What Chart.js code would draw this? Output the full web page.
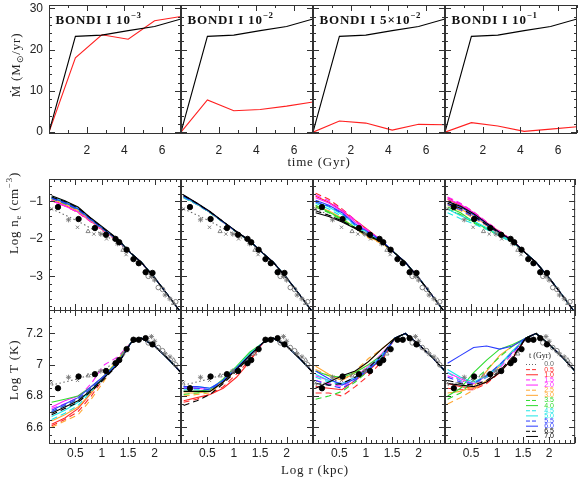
<!DOCTYPE html>
<html>
<head>
<meta charset="utf-8">
<script src="https://cdn.jsdelivr.net/npm/chart.js@4.4.0/dist/chart.umd.min.js"></script>
<style>
  body { margin: 0; background: #fff; }
  #wrap { position: relative; width: 580px; height: 481px; }
  #wrap canvas { position: absolute; left: 0; top: 0; }
</style>
</head>
<body>
<div id="wrap"></div>
<script>
// ---------- data ----------
// top row: accretion rate vs time
var timeGyr = [0, 1.4, 2.8, 4.2, 5.6, 7];
var mdotBlack = [0, 23.2, 23.5, 24.6, 25.6, 27.4];
var mdotRed1 = [0, 18.0, 23.6, 22.5, 27.0, 28.0];
var mdotRed2 = [0, 7.8, 5.2, 5.5, 6.3, 7.3];
var mdotRed3 = [0, 2.7, 2.2, 0.5, 1.9, 1.8];
var mdotRed4 = [0, 2.3, 1.5, 0.2, 0.75, 1.3];

// profiles: log r grid, inner part (r <= 1.3) differs per run, outer part shared
var rGrid = [0.05, 0.3, 0.55, 0.8, 1.05, 1.3, 1.55, 1.75, 2.0, 2.25, 2.5];
var tGyr = ['0.0', '0.5', '1.0', '1.5', '2.0', '2.5', '3.0', '3.5', '4.0', '4.5', '5.0', '5.5', '6.0', '6.5', '7.0'];

var ne0 = [-1.2, -1.36, -1.53, -1.72, -1.9, -2.1];
var neOuter = [-2.38, -2.63, -3.04, -3.5, -3.97];
var T0 = [6.87, 6.89, 6.91, 6.94, 6.97, 7.03];
var TOuterA = [7.14, 7.17, 7.12, 7.04, 6.95];
var TOuterB = [7.17, 7.2, 7.13, 7.05, 6.96];

// rows: t = 0.5 ... 7.0
var neP1 = [
  [-0.98, -1.12, -1.30, -1.55, -1.82, -2.05],
  [-0.96, -1.10, -1.28, -1.54, -1.80, -2.04],
  [-0.97, -1.11, -1.29, -1.55, -1.81, -2.05],
  [-0.98, -1.12, -1.28, -1.53, -1.80, -2.04],
  [-0.94, -1.08, -1.25, -1.52, -1.79, -2.04],
  [-0.93, -1.07, -1.24, -1.51, -1.78, -2.03],
  [-0.92, -1.06, -1.23, -1.50, -1.77, -2.03],
  [-0.90, -1.03, -1.20, -1.48, -1.76, -2.02],
  [-0.90, -1.02, -1.20, -1.48, -1.75, -2.02],
  [-0.88, -1.00, -1.18, -1.47, -1.74, -2.01],
  [-0.92, -1.05, -1.22, -1.50, -1.77, -2.03],
  [-0.90, -1.03, -1.20, -1.49, -1.76, -2.02],
  [-0.88, -1.00, -1.17, -1.46, -1.74, -2.01],
  [-0.85, -0.98, -1.15, -1.45, -1.72, -2.00]
];
var neP2 = [
  [-0.90, -1.08, -1.30, -1.56, -1.82, -2.06],
  [-0.88, -1.07, -1.29, -1.56, -1.82, -2.06],
  [-0.86, -1.06, -1.29, -1.55, -1.81, -2.05],
  [-0.85, -1.06, -1.29, -1.55, -1.81, -2.05],
  [-0.87, -1.07, -1.30, -1.56, -1.82, -2.06],
  [-0.86, -1.06, -1.29, -1.55, -1.81, -2.05],
  [-0.88, -1.07, -1.30, -1.56, -1.82, -2.06],
  [-0.86, -1.06, -1.29, -1.55, -1.81, -2.05],
  [-0.90, -1.08, -1.30, -1.56, -1.82, -2.06],
  [-0.88, -1.07, -1.29, -1.55, -1.81, -2.05],
  [-0.87, -1.06, -1.29, -1.55, -1.81, -2.05],
  [-0.85, -1.05, -1.28, -1.55, -1.81, -2.05],
  [-0.84, -1.05, -1.28, -1.54, -1.81, -2.05],
  [-0.83, -1.04, -1.27, -1.54, -1.80, -2.05]
];
var neP3 = [
  [-0.78, -0.94, -1.20, -1.50, -1.80, -2.05],
  [-0.86, -1.02, -1.25, -1.50, -1.77, -2.05],
  [-0.83, -0.98, -1.22, -1.50, -1.78, -2.05],
  [-0.90, -1.04, -1.27, -1.55, -1.80, -2.05],
  [-1.15, -1.28, -1.47, -1.72, -1.98, -2.12],
  [-1.12, -1.25, -1.45, -1.70, -1.95, -2.10],
  [-1.15, -1.30, -1.50, -1.72, -1.93, -2.08],
  [-1.10, -1.28, -1.47, -1.70, -1.90, -2.07],
  [-1.05, -1.20, -1.40, -1.65, -1.88, -2.06],
  [-1.00, -1.15, -1.35, -1.62, -1.85, -2.06],
  [-1.02, -1.12, -1.32, -1.62, -1.84, -2.05],
  [-0.97, -1.10, -1.30, -1.60, -1.82, -2.05],
  [-1.25, -1.37, -1.52, -1.70, -1.90, -2.07],
  [-1.30, -1.40, -1.55, -1.72, -1.92, -2.08]
];
var neP4 = [
  [-0.90, -1.06, -1.28, -1.55, -1.80, -2.04],
  [-0.95, -1.10, -1.30, -1.57, -1.81, -2.04],
  [-0.88, -1.05, -1.28, -1.55, -1.80, -2.04],
  [-0.93, -1.08, -1.30, -1.57, -1.82, -2.05],
  [-1.10, -1.25, -1.45, -1.65, -1.88, -2.10],
  [-1.05, -1.20, -1.40, -1.62, -1.86, -2.08],
  [-1.20, -1.35, -1.58, -1.74, -1.92, -2.10],
  [-1.15, -1.30, -1.55, -1.72, -1.90, -2.08],
  [-1.30, -1.46, -1.60, -1.75, -1.92, -2.10],
  [-1.20, -1.38, -1.52, -1.70, -1.90, -2.08],
  [-1.08, -1.22, -1.42, -1.63, -1.86, -2.06],
  [-1.00, -1.15, -1.36, -1.60, -1.84, -2.05],
  [-1.05, -1.18, -1.38, -1.62, -1.85, -2.06],
  [-1.00, -1.13, -1.33, -1.58, -1.83, -2.05]
];

var TP1 = [
  [6.61, 6.65, 6.70, 6.80, 6.92, 7.02],
  [6.62, 6.66, 6.72, 6.82, 6.93, 7.02],
  [6.72, 6.75, 6.79, 6.88, 7.00, 7.05],
  [6.73, 6.77, 6.80, 6.86, 6.93, 7.02],
  [6.60, 6.64, 6.68, 6.78, 6.90, 7.03],
  [6.64, 6.68, 6.73, 6.82, 6.93, 7.03],
  [6.70, 6.74, 6.78, 6.85, 6.93, 7.02],
  [6.76, 6.78, 6.80, 6.86, 6.93, 7.02],
  [6.65, 6.69, 6.74, 6.83, 6.92, 7.01],
  [6.67, 6.71, 6.76, 6.84, 6.92, 7.01],
  [6.70, 6.74, 6.78, 6.85, 6.92, 7.00],
  [6.71, 6.75, 6.79, 6.86, 6.93, 7.01],
  [6.68, 6.72, 6.76, 6.83, 6.91, 7.00],
  [6.69, 6.73, 6.77, 6.84, 6.92, 7.00]
];
var TP2 = [
  [6.76, 6.78, 6.81, 6.86, 6.94, 7.03],
  [6.77, 6.79, 6.81, 6.85, 6.92, 7.02],
  [6.85, 6.85, 6.84, 6.90, 6.97, 7.06],
  [6.86, 6.85, 6.84, 6.90, 6.98, 7.07],
  [6.80, 6.81, 6.82, 6.89, 6.97, 7.06],
  [6.82, 6.82, 6.83, 6.90, 6.98, 7.07],
  [6.81, 6.82, 6.83, 6.90, 6.98, 7.07],
  [6.83, 6.83, 6.84, 6.91, 6.99, 7.08],
  [6.84, 6.84, 6.84, 6.90, 6.98, 7.07],
  [6.86, 6.86, 6.85, 6.90, 6.98, 7.07],
  [6.85, 6.85, 6.84, 6.90, 6.97, 7.06],
  [6.86, 6.86, 6.85, 6.90, 6.98, 7.06],
  [6.74, 6.77, 6.81, 6.88, 6.96, 7.05],
  [6.83, 6.83, 6.83, 6.89, 6.97, 7.06]
];
var TP3 = [
  [6.82, 6.82, 6.80, 6.86, 6.93, 7.02],
  [6.86, 6.85, 6.84, 6.90, 6.96, 7.04],
  [6.90, 6.88, 6.86, 6.91, 6.98, 7.06],
  [6.93, 6.90, 6.88, 6.92, 6.99, 7.07],
  [6.97, 6.93, 6.90, 6.96, 7.04, 7.10],
  [6.99, 6.94, 6.90, 6.95, 7.02, 7.10],
  [6.78, 6.80, 6.83, 6.89, 6.96, 7.05],
  [6.96, 6.93, 6.92, 6.95, 7.00, 7.06],
  [6.92, 6.89, 6.87, 6.91, 6.97, 7.05],
  [6.94, 6.90, 6.88, 6.92, 6.98, 7.06],
  [6.90, 6.87, 6.85, 6.90, 6.97, 7.05],
  [6.96, 6.91, 6.87, 6.91, 6.97, 7.04],
  [6.88, 6.87, 6.88, 6.92, 6.98, 7.06],
  [6.85, 6.89, 6.93, 6.96, 7.02, 7.10]
];
var TP4 = [
  [6.85, 6.84, 6.84, 6.88, 6.95, 7.05],
  [6.88, 6.86, 6.85, 6.89, 6.95, 7.04],
  [6.93, 6.90, 6.87, 6.92, 6.98, 7.07],
  [6.95, 6.91, 6.88, 6.93, 7.00, 7.08],
  [6.75, 6.79, 6.84, 6.90, 6.99, 7.09],
  [6.82, 6.83, 6.86, 6.96, 7.06, 7.12],
  [6.78, 6.82, 6.90, 6.97, 7.05, 7.12],
  [6.80, 6.85, 6.95, 7.03, 7.10, 7.13],
  [6.95, 6.90, 6.88, 6.92, 6.99, 7.08],
  [6.97, 6.92, 6.89, 6.93, 7.00, 7.09],
  [6.92, 6.89, 6.88, 6.93, 7.00, 7.08],
  [7.01, 7.06, 7.11, 7.12, 7.10, 7.12],
  [6.90, 6.88, 6.87, 6.90, 6.96, 7.05],
  [6.88, 6.87, 6.86, 6.89, 6.95, 7.04]
];

// observed points
var obsR = [0.17, 0.56, 0.87, 1.08, 1.26, 1.33, 1.47, 1.6, 1.7, 1.83, 1.96];
var neObs = [-1.15, -1.47, -1.71, -1.89, -2.0, -2.09, -2.29, -2.54, -2.65, -2.89, -2.91];
var TObs = [6.85, 6.925, 6.94, 6.96, 7.01, 7.03, 7.1, 7.16, 7.16, 7.17, 7.13];
var crossR = [0.05, 0.54, 0.85, 1.09, 1.46];
var neCross = [-1.2, -1.69, -1.87, -2.0, -2.42];
var TCross = [6.885, 6.9, 6.93, 6.97, 7.09];
var starR = [0.37, 0.98, 1.3, 1.94, 2.0, 2.2, 2.29];
var neStar = [-1.49, -1.87, -2.13, -3.0, -3.1, -3.5, -3.6];
var TStar = [6.92, 6.96, 7.03, 7.18, 7.15, 7.07, 7.05];
var triR = [0.74, 1.4, 2.36];
var neTri = [-1.8, -2.3, -3.72];
var TTri = [6.93, 7.07, 7.03];
var ringR = [1.88, 2.07, 2.15, 2.4];
var neRing = [-3.0, -3.3, -3.35, -3.68];
var TRing = [7.14, 7.11, 7.09, 7.0];

// tick labels
var timeTicks = [2, 4, 6];
var mdotTicks = [0, 10, 20, 30];
var neTicks = [-1, -2, -3];
var neTickText = ['\u22121', '\u22122', '\u22123'];
var logTTicks = [6.6, 6.8, 7, 7.2];
var logRTicks = [0.5, 1, 1.5, 2];
var runNames = [['10', '\u22123'], ['10', '\u22122'], ['5\u00d710', '\u22122'], ['10', '\u22121']];

// ---------- layout / styles ----------
var sans = "'Liberation Sans', Arial, sans-serif";
var serif = "'Liberation Serif', 'Times New Roman', serif";
var cols = [49, 181, 313, 445];
var pw = 132;
var rows = [[5, 133], [179, 310], [310, 443]];
var runColor = ['#666', '#ff2a2a', '#ff2a2a', '#ff22ff', '#ff22ff', '#ffa733', '#ffa733',
  '#2fdc2f', '#2fdc2f', '#1ee6e6', '#1ee6e6', '#2b3cff', '#2b3cff', '#000', '#000'];
function runDash(i) { return i === 0 ? [1.5, 2.5] : (i % 2 === 1 ? [6, 4] : []); }

function pts(xs, ys) { return xs.map(function (x, i) { return { x: x, y: ys[i] }; }); }

function lineSet(xs, ys, color, dash) {
  return { data: pts(xs, ys), borderColor: color, borderWidth: 1.1, borderDash: dash || [],
    pointRadius: 0, fill: false, tension: 0 };
}
function markSet(xs, ys, style, r, fillCol, edge) {
  return { data: pts(xs, ys), showLine: false, pointStyle: style, pointRadius: r,
    pointBackgroundColor: fillCol, pointBorderColor: edge, pointBorderWidth: 0.9 };
}

function profileSets(first, inner, outer, obs, cross, star, tri, ring) {
  var sets = [
    markSet(obsR, obs, 'circle', 2.7, '#000', '#000'),
    markSet(crossR, cross, 'crossRot', 2.3, '#777', '#777'),
    markSet(starR, star, 'star', 2.6, '#777', '#777'),
    markSet(triR, tri, 'triangle', 2.4, 'rgba(0,0,0,0)', '#777'),
    markSet(ringR, ring, 'circle', 2.3, 'rgba(0,0,0,0)', '#777')
  ];
  for (var i = 14; i >= 1; i--) {
    sets.push(lineSet(rGrid, inner[i - 1].concat(outer), runColor[i], runDash(i)));
  }
  sets.push(lineSet(rGrid, first.concat(outer), runColor[0], runDash(0)));
  return sets;
}

// size = room kept for the tick labels (0 when the axis shows none)
function axisCfg(a, show, isY, size) {
  return {
    type: 'linear', min: a.min, max: a.max, bounds: 'data',
    grid: { display: false, drawTicks: false }, border: { display: false },
    afterBuildTicks: function (s) { s.ticks = a.ticks.map(function (v) { return { value: v }; }); },
    ticks: {
      display: show, padding: a.pad, autoSkip: false, maxRotation: 0, minRotation: 0,
      color: '#222', font: { family: sans, size: 12 },
      callback: function (v) {
        for (var i = 0; i < a.ticks.length; i++) {
          if (Math.abs(a.ticks[i] - v) < 1e-6) return a.text ? a.text[i] : String(a.ticks[i]);
        }
        return '';
      }
    },
    afterFit: function (s) {
      if (isY) s.width = size; else s.height = size;
      s.paddingLeft = s.paddingRight = s.paddingTop = s.paddingBottom = 0;
    }
  };
}

// ---------- decorations: frame, inner ticks, texts ----------
function tickMarks(ctx, scale, minor, major, horiz, a) {
  var k0 = Math.ceil(scale.min / minor - 1e-6);
  for (var k = k0; k * minor <= scale.max + 1e-9; k++) {
    var v = k * minor;
    var isMaj = Math.abs(v / major - Math.round(v / major)) < 1e-6;
    var len = isMaj ? 6 : 3;
    var p = Math.round(scale.getPixelForValue(v)) + 0.5;
    if (horiz) {
      ctx.moveTo(p, a.bottom); ctx.lineTo(p, a.bottom - len);
      ctx.moveTo(p, a.top); ctx.lineTo(p, a.top + len);
    } else {
      ctx.moveTo(a.left, p); ctx.lineTo(a.left + len, p);
      ctx.moveTo(a.right, p); ctx.lineTo(a.right - len, p);
    }
  }
}

function drawRich(ctx, parts, x, y, size, family, weight, align, color, spacing) {
  var total = 0;
  ctx.letterSpacing = spacing || '0px';
  parts.forEach(function (p) {
    ctx.font = weight + ' ' + (p[1] === 'n' ? size : size * 0.68) + 'px ' + family;
    total += ctx.measureText(p[0]).width;
  });
  var cx = align === 'center' ? x - total / 2 : x;
  ctx.fillStyle = color; ctx.textAlign = 'left'; ctx.textBaseline = 'alphabetic';
  parts.forEach(function (p) {
    ctx.font = weight + ' ' + (p[1] === 'n' ? size : size * 0.68) + 'px ' + family;
    var dy = p[1] === 'sup' ? -size * 0.42 : (p[1] === 'sub' ? size * 0.25 : 0);
    ctx.fillText(p[0], cx, y + dy);
    cx += ctx.measureText(p[0]).width;
  });
  ctx.letterSpacing = '0px';
}

var decoPlugin = {
  id: 'deco',
  afterDatasetsDraw: function (chart) {
    var o = chart.options.plugins.deco;
    var ctx = chart.ctx, a = chart.chartArea;
    ctx.save();
    ctx.strokeStyle = '#333'; ctx.lineWidth = 1; ctx.setLineDash([]);
    ctx.beginPath();
    tickMarks(ctx, chart.scales.x, o.xMinor, o.xMajor, true, a);
    tickMarks(ctx, chart.scales.y, o.yMinor, o.yMajor, false, a);
    ctx.stroke();
    ctx.strokeRect(a.left + 0.5, a.top + 0.5, a.right - a.left - 1, a.bottom - a.top);
    ctx.restore();
  },
  afterDraw: function (chart) {
    var o = chart.options.plugins.deco;
    var ctx = chart.ctx, a = chart.chartArea;
    ctx.save();
    if (o.title) {
      drawRich(ctx, [['BONDI I ' + o.title[0], 'n'], [o.title[1], 'sup']], a.left + 6.5, 23.5, 13, serif, 'bold', 'left', '#111', '0.8px');
    }
    if (o.ytitle) {
      ctx.save();
      ctx.translate(o.ytitle.x, o.ytitle.y);
      ctx.rotate(-Math.PI / 2);
      drawRich(ctx, o.ytitle.parts, 0, 4.5, 13, serif, 'normal', 'center', '#222', '0.8px');
      ctx.restore();
    }
    if (o.xtitle) {
      drawRich(ctx, o.xtitle.parts, o.xtitle.x, o.xtitle.y, 13, serif, 'normal', 'center', '#222', '0.8px');
    }
    if (o.legend) {
      drawRich(ctx, [['t (Gyr)', 'n']], 540, 358, 8, serif, 'normal', 'center', '#222');
      for (var i = 0; i < tGyr.length; i++) {
        var y = 364.5 + i * 5.14;
        ctx.beginPath();
        ctx.strokeStyle = runColor[i]; ctx.lineWidth = 1;
        ctx.setLineDash(i === 0 ? [1, 2] : (i % 2 === 1 ? [4, 2] : []));
        ctx.moveTo(526, y); ctx.lineTo(538, y); ctx.stroke();
        ctx.setLineDash([]);
        ctx.font = '7px ' + sans; ctx.fillStyle = runColor[i];
        ctx.textAlign = 'center'; ctx.textBaseline = 'middle';
        ctx.fillText(tGyr[i], 549, y);
      }
    }
    ctx.restore();
  }
};

function makePanel(row, col, datasets, xa, ya, deco) {
  var showX = row !== 1, showY = col === 0;
  var leftRoom = cols[col], bottomRoom = 481 - rows[row][1];
  var c = document.createElement('canvas');
  c.width = 580; c.height = 481;
  document.getElementById('wrap').appendChild(c);
  return new Chart(c, {
    type: 'line',
    data: { datasets: datasets },
    options: {
      responsive: false, animation: false, events: [],
      layout: { padding: {
        left: showY ? 0 : leftRoom, top: rows[row][0],
        right: 580 - cols[col] - pw, bottom: showX ? 0 : bottomRoom } },
      plugins: { legend: { display: false }, tooltip: { enabled: false }, deco: deco },
      scales: {
        x: axisCfg(xa, showX, false, showX ? bottomRoom : 0),
        y: axisCfg(ya, showY, true, showY ? leftRoom : 0)
      }
    },
    plugins: [decoPlugin]
  });
}

// ---------- build the 12 panels ----------
var timeAxis = { min: 0, max: 7, ticks: timeTicks, pad: 10 };
var mdotAxis = { min: -0.2, max: 30.8, ticks: mdotTicks, pad: 6 };
var rAxis = { min: 0, max: 2.5, ticks: logRTicks, pad: 3 };
var neAxis = { min: -3.9, max: -0.4, ticks: neTicks, text: neTickText, pad: 6 };
var TAxis = { min: 6.5, max: 7.35, ticks: logTTicks, pad: 6 };

var reds = [mdotRed1, mdotRed2, mdotRed3, mdotRed4];
var neRuns = [neP1, neP2, neP3, neP4];
var TRuns = [TP1, TP2, TP3, TP4];
var TOuter = [TOuterA, TOuterA, TOuterB, TOuterB];

for (var col = 0; col < 4; col++) {
  var d1 = { xMinor: 1, xMajor: 2, yMinor: 2, yMajor: 10, title: runNames[col] };
  if (col === 0) d1.ytitle = { x: 15, y: 65, parts: [['\u1E40 (M', 'n'], ['\u2299', 'sub'], ['/yr)', 'n']] };
  if (col === 2) d1.xtitle = { x: 319, y: 166, parts: [['time (Gyr)', 'n']] };
  makePanel(0, col, [
    lineSet(timeGyr, mdotBlack, '#000'),
    lineSet(timeGyr, reds[col], '#ff2020')
  ], timeAxis, mdotAxis, d1);

  var d2 = { xMinor: 0.1, xMajor: 0.5, yMinor: 0.2, yMajor: 1 };
  if (col === 0) d2.ytitle = { x: 13, y: 213, parts: [['Log n', 'n'], ['e', 'sub'], [' (cm', 'n'], ['\u22123', 'sup'], [')', 'n']] };
  makePanel(1, col, profileSets(ne0, neRuns[col], neOuter, neObs, neCross, neStar, neTri, neRing), rAxis, neAxis, d2);

  var d3 = { xMinor: 0.1, xMajor: 0.5, yMinor: 0.05, yMajor: 0.2 };
  if (col === 0) d3.ytitle = { x: 13, y: 370, parts: [['Log T (K)', 'n']] };
  if (col === 2) d3.xtitle = { x: 315, y: 474, parts: [['Log r (kpc)', 'n']] };
  if (col === 3) d3.legend = true;
  makePanel(2, col, profileSets(T0, TRuns[col], TOuter[col], TObs, TCross, TStar, TTri, TRing), rAxis, TAxis, d3);
}
</script>
</body>
</html>
